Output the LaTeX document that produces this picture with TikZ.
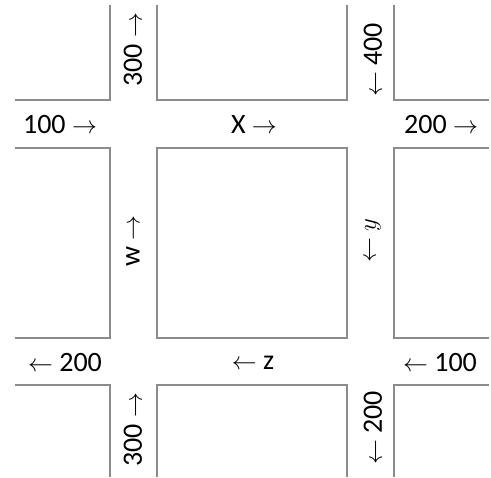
\documentclass[tikz,border=0pt]{standalone}
\usepackage{fontspec}
\setmainfont{Carlito}
\begin{document}
\begin{tikzpicture}[
    x=1pt, y=-1pt,
    font=\fontsize{28}{32}\selectfont,
    block/.style={draw=black!45, line width=1.6pt},
    lbl/.style={inner sep=0pt, anchor=center},
    vlbl/.style={lbl, rotate=90}
]
\useasboundingbox (0,0) rectangle (491,478);

% Blocks
\draw[block] (15,100) -- (110,100) -- (110,5);
\draw[block] (157,5) -- (157,100) -- (347,100) -- (347,5);
\draw[block] (394,5) -- (394,100) -- (489,100);

\draw[block] (15,148) -- (110,148) -- (110,338) -- (15,338);
\draw[block] (157,148) rectangle (347,338);
\draw[block] (489,148) -- (394,148) -- (394,338) -- (489,338);

\draw[block] (15,385) -- (110,385) -- (110,477);
\draw[block] (157,477) -- (157,385) -- (347,385) -- (347,477);
\draw[block] (394,477) -- (394,385) -- (489,385);

% Horizontal streets
\node[lbl] (in1)  at (60,125)  {100 $\rightarrow$};
\node[lbl] (fx)   at (254,125) {X $\rightarrow$};
\node[lbl] (out1) at (441,125) {200 $\rightarrow$};

\node[lbl] (out2) at (65,363)  {$\leftarrow$ 200};
\node[lbl] (fz)   at (253,363) {$\leftarrow$ z};
\node[lbl] (in2)  at (440,363) {$\leftarrow$ 100};

% Vertical streets
\node[vlbl] (out3) at (133,50)  {300 $\rightarrow$};
\node[vlbl] (in3)  at (373,60)  {$\leftarrow$ 400};
\node[vlbl] (fw)   at (133,241) {w $\rightarrow$};
\node[vlbl] (fy)   at (373,241) {$\leftarrow$ $y$};
\node[vlbl] (in4)  at (133,430) {300 $\rightarrow$};
\node[vlbl] (out4) at (373,428) {$\leftarrow$ 200};

\end{tikzpicture}
\end{document}
